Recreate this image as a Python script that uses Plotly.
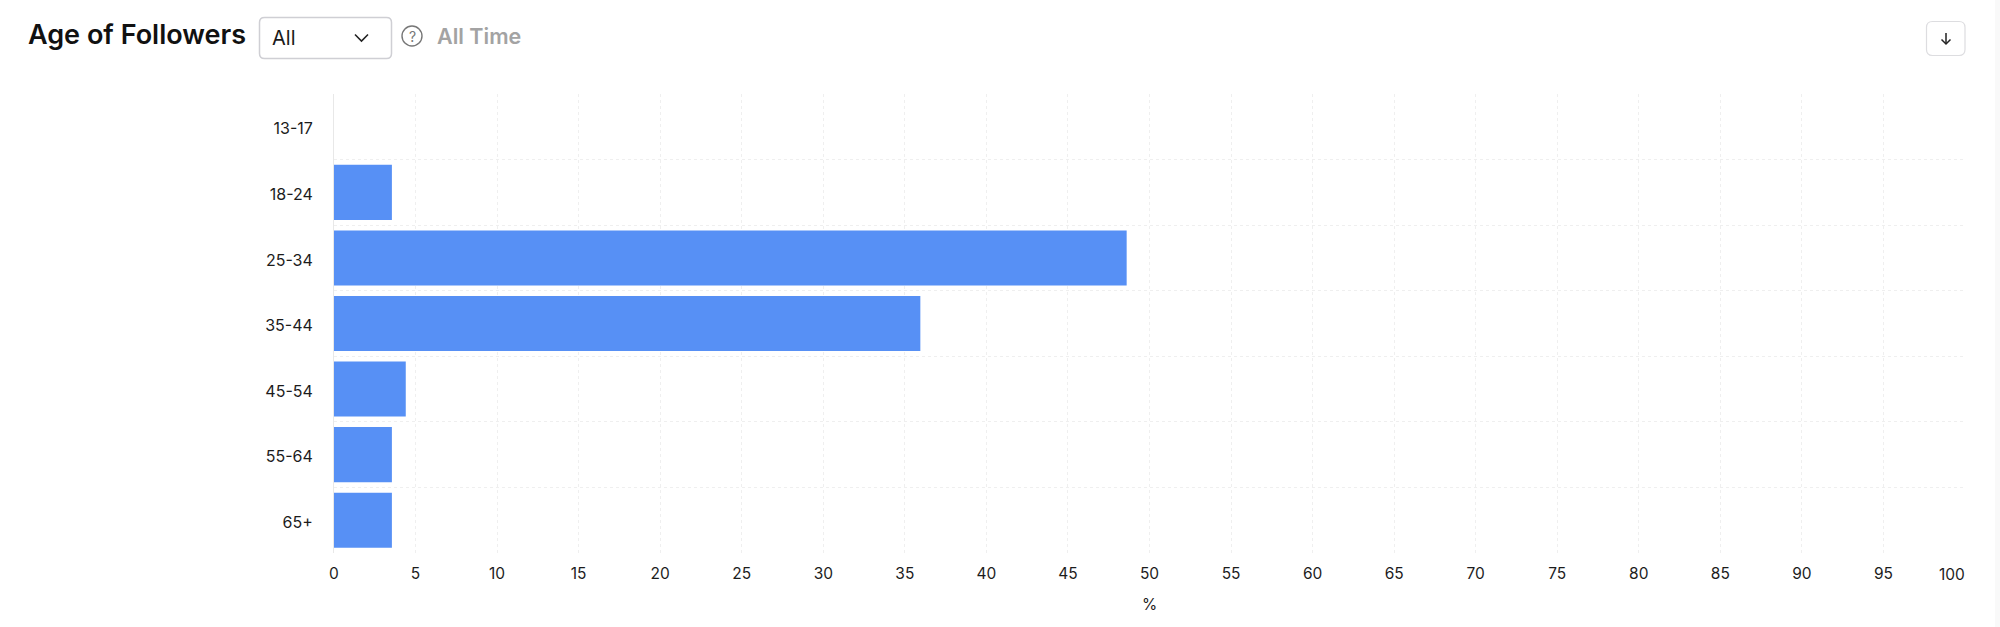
import plotly.graph_objects as go

age_groups = ["13-17", "18-24", "25-34", "35-44", "45-54", "55-64", "65+"]
follower_pct = [0, 3.55, 48.6, 35.95, 4.4, 3.55, 3.55]
x_ticks = list(range(0, 100, 5))
last_tick = 100

W, H = 2000, 627
L, R, T, B = 334, 35, 94, 74
PW, PH = W - L - R, H - T - B
FONT = "Inter, Roboto, sans-serif"
INK = "#1c1c1c"


def px(x):
    return (x - L) / PW


def py(y):
    return 1 - (y - T) / PH


def rrect(x0, y0, x1, y1, r):
    X0, X1, Xa, Xb = px(x0), px(x1), px(x0 + r), px(x1 - r)
    Y0, Y1, Ya, Yb = py(y0), py(y1), py(y0 + r), py(y1 - r)
    return (f"M{Xa},{Y0} L{Xb},{Y0} Q{X1},{Y0} {X1},{Ya} L{X1},{Yb} Q{X1},{Y1} {Xb},{Y1} "
            f"L{Xa},{Y1} Q{X0},{Y1} {X0},{Yb} L{X0},{Ya} Q{X0},{Y0} {Xa},{Y0} Z")


def polyline(points):
    return "M" + " L".join(f"{px(x)},{py(y)}" for x, y in points)


def text(s, x, y, size, color=INK, anchor="left", weight=400):
    return dict(text=s, x=px(x), y=py(y), xref="paper", yref="paper", xanchor=anchor, yanchor="middle",
                showarrow=False, font=dict(family=FONT, size=size, color=color, weight=weight))


fig = go.Figure(go.Bar(y=age_groups, x=follower_pct, orientation="h", marker=dict(color="#5790F5", line_width=0),
                       width=0.84, hoverinfo="x+y"))

shapes = [
    dict(type="rect", xref="paper", yref="paper", x0=px(1995), x1=px(2000), y0=py(0), y1=py(627),
         fillcolor="#F9F9F9", line_width=0, layer="below"),
    dict(type="path", xref="paper", yref="paper", path=rrect(259.5, 17.5, 391.5, 58.5, 5),
         line=dict(color="#CFCFD4", width=1.5), fillcolor="white"),
    dict(type="path", xref="paper", yref="paper", path=polyline([(355, 34.5), (361.5, 41), (368, 34.5)]),
         line=dict(color="#222222", width=1.6)),
    dict(type="circle", xref="paper", yref="paper", x0=px(402), x1=px(422), y0=py(26), y1=py(46),
         line=dict(color="#777777", width=1.4)),
    dict(type="path", xref="paper", yref="paper", path=rrect(1926.5, 21.5, 1965, 55.5, 6),
         line=dict(color="#DDDDE0", width=1.2), fillcolor="white"),
    dict(type="path", xref="paper", yref="paper", path=polyline([(1946, 33), (1946, 44)]),
         line=dict(color="#222222", width=1.5)),
    dict(type="path", xref="paper", yref="paper", path=polyline([(1941.5, 39.5), (1946, 44), (1950.5, 39.5)]),
         line=dict(color="#222222", width=1.5)),
]

annotations = [
    text("Age of Followers", 25.5, 35, 27, "#111111", weight=600),
    text("All", 269.5, 38.5, 20, "#1a1a1a"),
    text("?", 412, 36, 14, "#777777", anchor="center"),
    text("All Time", 434.5, 36, 21.5, "#A3A3A3", weight=600),
    dict(text=str(last_tick), x=last_tick, xref="x", y=py(574), yref="paper", xanchor="right", yanchor="middle",
         showarrow=False, xshift=2, font=dict(family=FONT, size=15.5, color=INK)),
]

fig.update_layout(
    width=W, height=H, margin=dict(l=L, r=R, t=T, b=B, autoexpand=False),
    paper_bgcolor="white", plot_bgcolor="white", showlegend=False,
    font=dict(family=FONT, size=15.5, color=INK),
    shapes=shapes, annotations=annotations,
    xaxis=dict(range=[0, last_tick], tickmode="array", tickvals=x_ticks, ticktext=[str(v) for v in x_ticks],
               showgrid=True, griddash="dot", gridcolor="#EFEFEF", gridwidth=1, zeroline=False,
               ticks="", ticklabelstandoff=9, showline=False,
               title=dict(text="%", standoff=17, font=dict(family=FONT, size=15.5, color=INK))),
    yaxis=dict(autorange="reversed", type="category", categoryorder="array", categoryarray=age_groups,
               tickson="boundaries", showgrid=True, griddash="dot", gridcolor="#EFEFEF", gridwidth=1,
               zeroline=False, showline=True, linecolor="#E8E8E8", linewidth=1, ticks="", ticklabelstandoff=17,
               tickfont=dict(size=16), ticklabelshift=-2),
)

fig.write_html("out.html", config=dict(displayModeBar=False),
               post_script="document.body.style.margin='0';document.body.style.overflow='hidden';")
